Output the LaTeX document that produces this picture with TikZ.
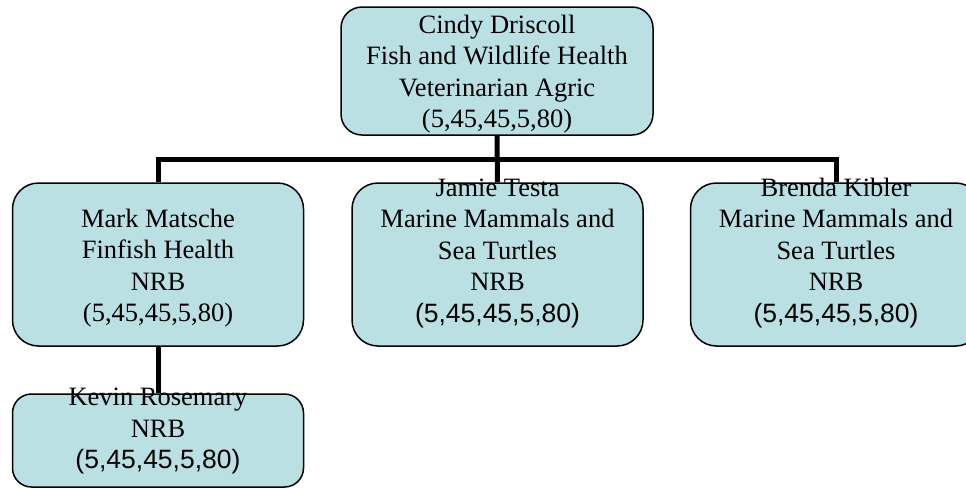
\documentclass[tikz,border=0pt]{standalone}
\usepackage{fontspec}
\setmainfont{Liberation Serif}
\newfontfamily\arialfont{Liberation Sans}
\definecolor{boxfill}{RGB}{187,224,228}
\tikzset{
  orgbox/.style={draw=black, line width=1.5pt, fill=boxfill, inner sep=0pt},
  orgtext/.style={align=center, font=\fontsize{26.5}{31.5}\selectfont, inner sep=0pt},
  link/.style={black, line width=5pt}
}
\begin{document}
\begin{tikzpicture}[x=1pt, y=-1pt]

    % Drawing Parameters
    \pgfmathsetmacro{\boxwidth}{291}%
    \pgfmathsetmacro{\boxheight}{163}%
    \pgfmathsetmacro{\topwidth}{312}%
    \pgfmathsetmacro{\topheight}{128}%
    \pgfmathsetmacro{\lowheight}{93}%
    \pgfmathsetmacro{\busy}{159}%

    \useasboundingbox (0,0) rectangle (966,488);

    % Boxes
    \node[orgbox, minimum width=\topwidth pt, minimum height=\topheight pt, rounded corners=21pt] (cindy) at (497,71) {};
    \node[orgbox, minimum width=\boxwidth pt, minimum height=\boxheight pt, rounded corners=26pt] (mark) at (158,264.5) {};
    \node[orgbox, minimum width=\boxwidth pt, minimum height=\boxheight pt, rounded corners=26pt] (jamie) at (497.5,264.5) {};
    \node[orgbox, minimum width=\boxwidth pt, minimum height=\boxheight pt, rounded corners=26pt] (brenda) at (836,264.5) {};
    \node[orgbox, minimum width=\boxwidth pt, minimum height=\lowheight pt, rounded corners=19pt] (kevin) at (158,440.5) {};

    % Connectors
    \coordinate (bus) at (497,\busy);
    \draw[link] (cindy.south) -- (jamie.north);
    \draw[link] (mark.north) |- (bus) -| (brenda.north);
    \draw[link] (mark.south) -- (kevin.north);

    % Texts
    \node[orgtext] (cindytxt) at (497,74) {Cindy Driscoll\\Fish and Wildlife Health\\Veterinarian Agric\\(5,45,45,5,80)};
    \node[orgtext] (marktxt) at (158,268) {Mark Matsche\\Finfish Health\\NRB\\(5,45,45,5,80)};
    \node[orgtext] (jamietxt) at (497.5,253) {Jamie Testa\\Marine Mammals and\\Sea Turtles\\NRB\\{\arialfont(5,45,45,5,80)}};
    \node[orgtext] (brendatxt) at (836,253) {Brenda Kibler\\Marine Mammals and\\Sea Turtles\\NRB\\{\arialfont(5,45,45,5,80)}};
    \node[orgtext] (kevintxt) at (158,431) {Kevin Rosemary\\NRB\\{\arialfont(5,45,45,5,80)}};
  \end{tikzpicture}
\end{document}
